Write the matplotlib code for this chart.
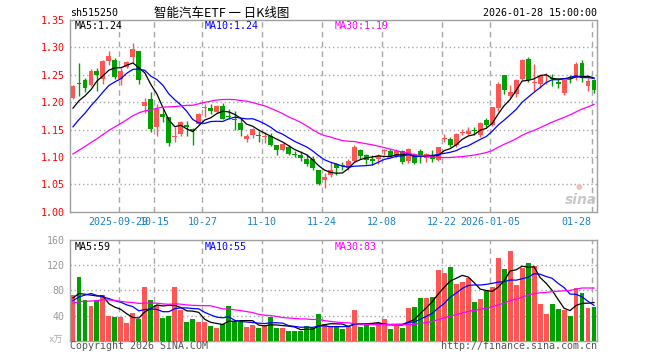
import numpy as np
import pandas as pd
import matplotlib
matplotlib.use("Agg")
import matplotlib.pyplot as plt
from matplotlib import transforms

symbol = "sh515250"
title = "智能汽车ETF 一 日K线图"
timestamp = "2026-01-28 15:00:00"

open_ = [1.208, 1.235, 1.240, 1.231, 1.256, 1.243, 1.276, 1.277, 1.243, 1.264,
         1.282, 1.293, 1.193, 1.205, 1.155, 1.179, 1.173, 1.136, 1.141, 1.158,
         1.151, 1.161, 1.189, 1.190, 1.182, 1.193, 1.174, 1.170, 1.162, 1.132,
         1.140, 1.140, 1.137, 1.138, 1.121, 1.113, 1.119, 1.105, 1.104, 1.096,
         1.096, 1.077, 1.058, 1.067, 1.087, 1.084, 1.080, 1.092, 1.113, 1.104,
         1.097, 1.096, 1.111, 1.110, 1.102, 1.111, 1.092, 1.104, 1.111, 1.098,
         1.102, 1.095, 1.132, 1.133, 1.121, 1.144, 1.141, 1.148, 1.140, 1.167,
         1.159, 1.190, 1.249, 1.211, 1.214, 1.242, 1.279, 1.235, 1.234, 1.247,
         1.245, 1.237, 1.217, 1.246, 1.245, 1.271, 1.230, 1.240]
high = [1.232, 1.271, 1.245, 1.261, 1.263, 1.277, 1.293, 1.281, 1.262, 1.276,
        1.308, 1.293, 1.207, 1.219, 1.196, 1.188, 1.173, 1.155, 1.165, 1.166,
        1.153, 1.180, 1.196, 1.196, 1.194, 1.199, 1.188, 1.184, 1.171, 1.141,
        1.153, 1.148, 1.146, 1.143, 1.121, 1.126, 1.121, 1.110, 1.110, 1.105,
        1.102, 1.077, 1.070, 1.091, 1.089, 1.091, 1.097, 1.121, 1.115, 1.106,
        1.103, 1.106, 1.115, 1.114, 1.114, 1.113, 1.117, 1.107, 1.115, 1.108,
        1.113, 1.118, 1.141, 1.136, 1.143, 1.151, 1.155, 1.154, 1.164, 1.171,
        1.192, 1.236, 1.250, 1.231, 1.242, 1.279, 1.282, 1.270, 1.251, 1.254,
        1.251, 1.245, 1.241, 1.249, 1.273, 1.277, 1.245, 1.242]
low = [1.206, 1.211, 1.218, 1.229, 1.220, 1.234, 1.268, 1.243, 1.232, 1.262,
       1.271, 1.234, 1.180, 1.145, 1.139, 1.164, 1.120, 1.127, 1.139, 1.139,
       1.122, 1.159, 1.173, 1.178, 1.180, 1.169, 1.169, 1.150, 1.138, 1.128,
       1.135, 1.128, 1.126, 1.120, 1.103, 1.111, 1.104, 1.099, 1.093, 1.083,
       1.076, 1.048, 1.043, 1.064, 1.067, 1.077, 1.077, 1.091, 1.097, 1.087,
       1.086, 1.088, 1.104, 1.099, 1.099, 1.088, 1.089, 1.087, 1.089, 1.090,
       1.090, 1.092, 1.127, 1.119, 1.119, 1.140, 1.140, 1.140, 1.137, 1.155,
       1.157, 1.184, 1.214, 1.208, 1.210, 1.240, 1.237, 1.220, 1.226, 1.234,
       1.230, 1.226, 1.213, 1.235, 1.240, 1.236, 1.220, 1.216]
close = [1.229, 1.233, 1.225, 1.256, 1.250, 1.276, 1.285, 1.246, 1.257, 1.273,
         1.297, 1.240, 1.200, 1.151, 1.188, 1.173, 1.126, 1.138, 1.164, 1.155,
         1.148, 1.179, 1.191, 1.184, 1.193, 1.170, 1.173, 1.168, 1.149, 1.139,
         1.151, 1.139, 1.139, 1.122, 1.112, 1.124, 1.106, 1.104, 1.098, 1.088,
         1.080, 1.051, 1.063, 1.077, 1.080, 1.083, 1.092, 1.119, 1.102, 1.095,
         1.092, 1.102, 1.113, 1.102, 1.111, 1.090, 1.115, 1.089, 1.104, 1.106,
         1.096, 1.118, 1.134, 1.122, 1.141, 1.146, 1.148, 1.147, 1.162, 1.158,
         1.191, 1.234, 1.223, 1.219, 1.240, 1.277, 1.240, 1.237, 1.248, 1.249,
         1.243, 1.234, 1.240, 1.245, 1.269, 1.245, 1.238, 1.223]
volume = [72, 101, 64, 55, 63.5, 72, 39, 37, 37, 28,
          44, 34, 86, 64, 56, 36, 39, 85, 48, 29,
          34, 29, 30, 24, 20, 26, 55, 29, 29, 21,
          25, 20, 23, 37, 20, 20, 16, 16, 16, 23,
          20, 42, 26, 24, 22, 18, 22, 48, 22, 25,
          21, 28, 34, 18, 24, 20, 52, 53, 68, 68,
          70, 112, 107, 117, 90, 93, 99, 62, 66, 79,
          86, 132, 114, 143, 88, 115, 123, 118, 58, 43,
          58, 51, 48, 39, 84, 75, 52, 53]

# history before the first visible day (needed for the moving averages)
prior_close = [1.028, 1.022, 1.035, 1.048, 1.041, 1.058, 1.052, 1.070, 1.066, 1.084,
               1.079, 1.095, 1.090, 1.108, 1.112, 1.105, 1.125, 1.130, 1.122, 1.142,
               1.100, 1.110, 1.120, 1.130, 1.145, 1.165, 1.180, 1.200, 1.171]
prior_volume = [38, 45, 40, 42, 35, 45, 70, 75, 62, 68,
                72, 69, 60, 66, 70, 58, 65, 62, 66, 52,
                40, 35, 30, 95, 95, 66, 70, 62, 70]

date_idx = [8, 14, 22, 32, 42, 52, 62, 70, 87]
date_labels = ["2025-09-29", "10-15", "10-27", "11-10", "11-24", "12-08",
               "12-22", "2026-01-05", "01-28"]
price_ticks = [1.00, 1.05, 1.10, 1.15, 1.20, 1.25, 1.30, 1.35]
vol_ticks = [40, 80, 120, 160]
price_legend = ["MA5:1.24", "MA10:1.24", "MA30:1.19"]
vol_legend = ["MA5:59", "MA10:55", "MA30:83"]

RED = "#ff5555"
GREEN = "#00a000"
GRID = "#a8a8a8"
BORDER = "#a0a0a0"
MA_COLORS = ["#000000", "#0000ff", "#ff00ff"]
MONO = "DejaVu Sans Mono"

n = len(close)
x = np.arange(n)
all_close = pd.Series(prior_close + close)
all_vol = pd.Series(prior_volume + volume)
k = len(prior_close)
ma_p = [all_close.rolling(w).mean().values[k:] for w in (5, 10, 30)]
ma_v = [all_vol.rolling(w).mean().values[k:] for w in (5, 10, 30)]

W, H = 660, 360
fig = plt.figure(figsize=(W / 100, H / 100), dpi=100)
L, R = 70, 597
ax = fig.add_axes([L / W, (H - 211.7) / H, (R - L) / W, (211.7 - 20) / H])
axv = fig.add_axes([L / W, (H - 340.7) / H, (R - L) / W, (340.7 - 240) / H])

o = np.array(open_); c = np.array(close); hi = np.array(high); lo = np.array(low)
cols = [RED if c[i] >= o[i] else GREEN for i in range(n)]

ax.vlines(x, lo, hi, colors=cols, linewidth=1.0, zorder=3)
body_bot = np.minimum(o, c)
body_h = np.maximum(np.abs(c - o), 0.0016)
ax.bar(x, body_h, bottom=body_bot, width=0.82, color=cols, linewidth=0, zorder=3)
for m, col in zip(ma_p, MA_COLORS):
    ax.plot(x, m, color=col, linewidth=0.9, zorder=4)

axv.bar(x, volume, width=0.82, color=cols, linewidth=0, zorder=3)
for m, col in zip(ma_v, MA_COLORS):
    axv.plot(x, m, color=col, linewidth=0.9, zorder=4)

for a in (ax, axv):
    a.set_xlim(-0.5, n - 0.5)
    a.set_xticks([])
    for s in a.spines.values():
        s.set_color(BORDER)
        s.set_linewidth(1.0)
    for i in date_idx:
        a.axvline(i - 0.4, color=GRID, linewidth=1.0, linestyle=(0, (4, 3)), zorder=1)
    a.tick_params(axis="y", length=0, pad=4)

ax.set_ylim(1.00, 1.35)
ax.set_yticks(price_ticks)
ax.set_yticklabels([f"{t:.2f}" for t in price_ticks], color="#ff0000",
                   fontsize=7.2, family=MONO)
for t in price_ticks[1:-1]:
    ax.axhline(t, color=GRID, linewidth=1.0, linestyle=(0, (1, 2)), zorder=1)

axv.set_ylim(0, 160)
axv.set_yticks(vol_ticks)
axv.set_yticklabels([str(t) for t in vol_ticks], color="#999999",
                    fontsize=7.2, family=MONO)
for t in vol_ticks[:-1]:
    axv.axhline(t, color=GRID, linewidth=1.0, linestyle=(0, (1, 2)), zorder=1)

def ft(px, py, s, **kw):
    fig.text(px / W, 1 - py / H, s, va="center", **kw)

ft(70, 13.5, symbol, ha="left", fontsize=7.2, family=MONO, color="#000000")
ft(222, 13.5, title, ha="center", fontsize=9, family=["Noto Sans CJK SC", "DejaVu Sans"],
   color="#000000")
ft(597, 13.5, timestamp, ha="right", fontsize=7.2, family=MONO, color="#000000")

for px, s, col in zip((75, 205, 335), price_legend, MA_COLORS):
    ft(px, 26, s, ha="left", fontsize=7.2, family=MONO, color=col)
for px, s, col in zip((75, 205, 335), vol_legend, MA_COLORS):
    ft(px, 246.7, s, ha="left", fontsize=7.2, family=MONO, color=col)

tr = transforms.blended_transform_factory(ax.transData, fig.transFigure)
for j, (i, lab) in enumerate(zip(date_idx, date_labels)):
    ha = "right" if j == len(date_idx) - 1 else "center"
    ax.text(i - 0.4, 1 - 221.7 / H, lab, transform=tr, ha=ha, va="center",
            fontsize=7.2, family=MONO, color="#1a82c8")

ft(56, 340, "x万", ha="center", fontsize=6.5, family=[MONO, "Noto Sans CJK SC"], color="#aaaaaa")
ft(70, 346, "Copyright 2026 SINA.COM", ha="left", fontsize=7.2, family=MONO, color="#555555")
ft(597, 346, "http://finance.sina.com.cn", ha="right", fontsize=7.2, family=MONO, color="#555555")

ft(581, 200, "sina", ha="center", fontsize=10, fontweight="bold", fontstyle="italic",
   family="DejaVu Sans", color="#c8c8c8")
ft(579, 186, "●", ha="center", fontsize=5.5, family="DejaVu Sans", color="#f0c0c0")

fig.savefig("out.png", dpi=100)
